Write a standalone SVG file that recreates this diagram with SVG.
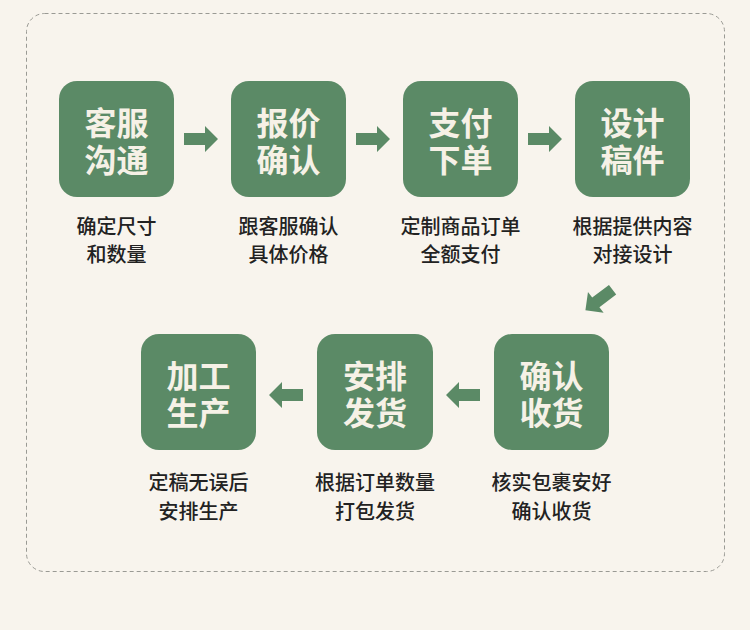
<svg xmlns="http://www.w3.org/2000/svg" width="750" height="630" viewBox="0 0 750 630">
<style>
.node rect{fill:#5b8a66;}
.nt{font-family:"Noto Sans CJK SC",sans-serif;font-weight:700;font-size:32px;fill:#f6f1e6;text-anchor:middle;dominant-baseline:central;}
.cap{font-family:"Noto Sans CJK SC",sans-serif;font-weight:500;font-size:20px;fill:#222;text-anchor:middle;dominant-baseline:central;}
.arr{fill:#5b8a66;}
</style>
<rect width="750" height="630" fill="#f8f4ed"/>
<rect x="26.5" y="13.5" width="698" height="558" rx="18" fill="none" stroke="#9a9a94" stroke-width="1" stroke-dasharray="4 3"/>
<g id="connectors">
<polygon class="arr" points="184,133 205,133 205,126 218,139 205,152 205,145 184,145"/>
<polygon class="arr" points="356,133 377,133 377,126 390,139 377,152 377,145 356,145"/>
<polygon class="arr" points="528,133 549,133 549,126 562,139 549,152 549,145 528,145"/>
<polygon class="arr" points="303,389 282,389 282,382 269,395 282,408 282,401 303,401"/>
<polygon class="arr" points="480,389 459,389 459,382 446,395 459,408 459,401 480,401"/>
<polygon class="arr" points="304,-6 283,-6 283,-13 270,0 283,13 283,6 304,6" transform="translate(599,300) rotate(-37) translate(-287,0)"/>
</g>
<g id="n1" class="node"><rect x="59" y="81" width="115" height="116" rx="18"/><text class="nt" x="116.5" y="121">客服</text><text class="nt" x="116.5" y="158">沟通</text><text class="cap" x="116.5" y="225">确定尺寸</text><text class="cap" x="116.5" y="253">和数量</text></g>
<g id="n2" class="node"><rect x="231" y="81" width="115" height="116" rx="18"/><text class="nt" x="288.5" y="121">报价</text><text class="nt" x="288.5" y="158">确认</text><text class="cap" x="288.5" y="225">跟客服确认</text><text class="cap" x="288.5" y="253">具体价格</text></g>
<g id="n3" class="node"><rect x="403" y="81" width="115" height="116" rx="18"/><text class="nt" x="460.5" y="121">支付</text><text class="nt" x="460.5" y="158">下单</text><text class="cap" x="460.5" y="225">定制商品订单</text><text class="cap" x="460.5" y="253">全额支付</text></g>
<g id="n4" class="node"><rect x="575" y="81" width="115" height="116" rx="18"/><text class="nt" x="632.5" y="121">设计</text><text class="nt" x="632.5" y="158">稿件</text><text class="cap" x="632.5" y="225">根据提供内容</text><text class="cap" x="632.5" y="253">对接设计</text></g>
<g id="n5" class="node"><rect x="494" y="334" width="115" height="116" rx="18"/><text class="nt" x="551.5" y="374">确认</text><text class="nt" x="551.5" y="411">收货</text><text class="cap" x="551.5" y="481">核实包裹安好</text><text class="cap" x="551.5" y="510">确认收货</text></g>
<g id="n6" class="node"><rect x="317" y="334" width="116" height="116" rx="18"/><text class="nt" x="375" y="374">安排</text><text class="nt" x="375" y="411">发货</text><text class="cap" x="375" y="481">根据订单数量</text><text class="cap" x="375" y="510">打包发货</text></g>
<g id="n7" class="node"><rect x="141" y="334" width="115" height="116" rx="18"/><text class="nt" x="198.5" y="374">加工</text><text class="nt" x="198.5" y="411">生产</text><text class="cap" x="198.5" y="481">定稿无误后</text><text class="cap" x="198.5" y="510">安排生产</text></g>
</svg>
